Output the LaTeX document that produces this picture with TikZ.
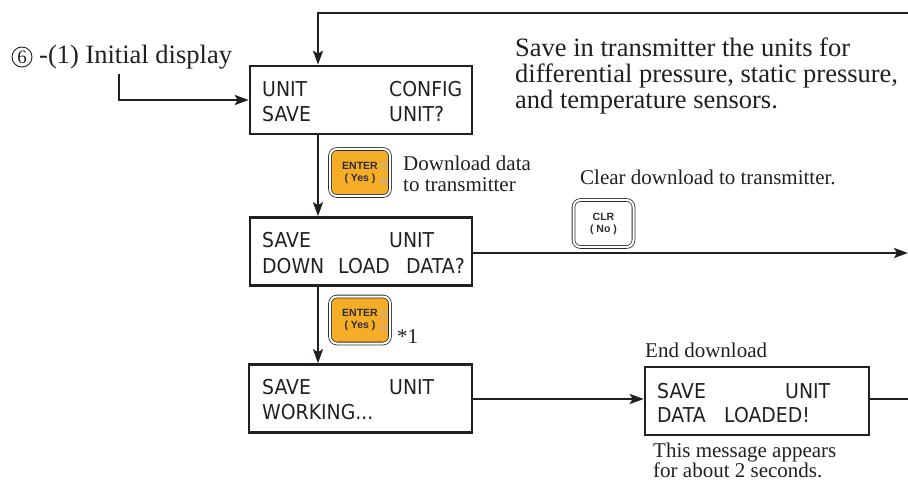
\documentclass[tikz,border=0pt]{standalone}
\usepackage{fontspec}
\setmainfont{Liberation Serif}
\newfontfamily\lcdfont[FakeStretch=0.92]{DejaVu Sans}
\newfontfamily\keyfont{Liberation Sans}
\usetikzlibrary{arrows.meta}
\definecolor{keyorange}{RGB}{245,172,38}
\definecolor{keyink}{RGB}{45,45,45}
\definecolor{ink}{RGB}{35,31,32}
\begin{document}
\begin{tikzpicture}[x=1pt,y=-1pt,
  lcdbox/.style={draw=ink, line width=2.6pt, minimum width=222pt, minimum height=68pt, inner sep=0pt},
  lcdtxt/.style={anchor=base west, inner sep=0pt, text=ink, font=\lcdfont\fontsize{20.5}{24}\selectfont},
  conn/.style={draw=ink, line width=2.4pt},
  arr/.style={conn, -{Stealth[length=14pt,width=10pt,inset=3pt]}},
  note/.style={anchor=base west, inner sep=0pt, text=ink, font=\fontsize{21}{21}\selectfont},
  bignote/.style={anchor=base west, inner sep=0pt, text=ink, font=\fontsize{26.5}{26}\selectfont},
  keybox/.style={draw=keyink, line width=0.8pt, double=white, double distance=2pt,
     rounded corners=7pt, minimum width=60pt, minimum height=47pt, inner sep=0pt,
     align=center, text=keyink, font=\keyfont\bfseries\fontsize{10.5}{13}\selectfont},
  gbox/.style={draw=black!30, line width=0.4pt, minimum size=5pt, inner sep=0pt},
  circnum/.style={circle, draw=ink, line width=0.9pt, minimum size=20pt, inner sep=0pt,
     text=ink, font=\fontsize{19}{19}\selectfont}
]
\useasboundingbox (0,0) rectangle (908,481);

% LCD boxes
\node[lcdbox] (b1) at (361,100) {};
\node[lcdbox] (b2) at (361,251.5) {};
\node[lcdbox, minimum width=223pt] (b3) at (360.5,398.5) {};
\node[lcdbox, minimum width=224pt] (b4) at (757,401) {};

% LCD texts
\node[lcdtxt] (t11) at (262,97) {UNIT};
\node[lcdtxt] (t12) at (389,97) {CONFIG};
\node[lcdtxt] (t13) at (262,122) {SAVE};
\node[lcdtxt] (t14) at (389,122) {UNIT?};

\node[lcdtxt] (t21) at (262,248) {SAVE};
\node[lcdtxt] (t22) at (389,248) {UNIT};
\node[lcdtxt] (t23) at (262,273) {DOWN};
\node[lcdtxt] (t24) at (338,273) {LOAD};
\node[lcdtxt] (t25) at (406,273) {DATA?};

\node[lcdtxt] (t31) at (262,394) {SAVE};
\node[lcdtxt] (t32) at (389,394) {UNIT};
\node[lcdtxt] (t33) at (262,419) {WORKING...};

\node[lcdtxt] (t41) at (657,398) {SAVE};
\node[lcdtxt] (t42) at (785,398) {UNIT};
\node[lcdtxt] (t43) at (657,422) {DATA};
\node[lcdtxt] (t44) at (724,422) {LOADED!};

% Keys
\node[keybox, fill=keyorange] (k1) at (360,172.5) {ENTER\\[-1pt]( Yes )};
\node[keybox, fill=keyorange] (k2) at (360,320) {ENTER\\[-1pt]( Yes )};
\node[keybox, fill=white] (k3) at (603.5,223.5) {CLR\\[-1pt]( No )};
\node[gbox] (g1) at (384,166) {};
\node[gbox] (g2) at (384,180.5) {};
\node[gbox] (g3) at (384,313.5) {};
\node[gbox] (g4) at (384,328) {};

% Labels
\node[circnum] (c6) at (22,57) {6};
\node[bignote] (init) at (39,64) {-(1) Initial display};

\node[bignote] (s1) at (515,57) {Save in transmitter the units for};
\node[bignote] (s2) at (515,83) {differential pressure, static pressure,};
\node[bignote] (s3) at (515,109) {and temperature sensors.};

\node[note] (d1) at (403,171) {Download data};
\node[note] (d2) at (403,192) {to transmitter};
\node[note] (cl) at (580,185) {Clear download to transmitter.};
\node[note] (st) at (397,343) {*1};
\node[note] (ed) at (645,357) {End download};
\node[note] (m1) at (653,457) {This message appears};
\node[note] (m2) at (653,477) {for about 2 seconds.};

% Connectors
\coordinate (vx) at (318,0);
\coordinate (tl) at (318,13);
\coordinate (tr) at (909,13);
\coordinate (i1) at (119,74);
\coordinate (e2) at (908,253);
\coordinate (e4) at (909,399);

\draw[arr] (tr) -- (tl) -- (b1.north -| tl);
\draw[arr] (i1) |- (b1.west);
\draw[arr] (b1.south -| vx) -- (b2.north -| vx);
\draw[arr] (b2.south -| vx) -- (b3.north -| vx);
\draw[arr] (b2.east |- e2) -- (e2);
\draw[arr] (b3.east |- e4) -- (b4.west |- e4);
\draw[conn] (b4.east |- e4) -- (e4);
\end{tikzpicture}
\end{document}
